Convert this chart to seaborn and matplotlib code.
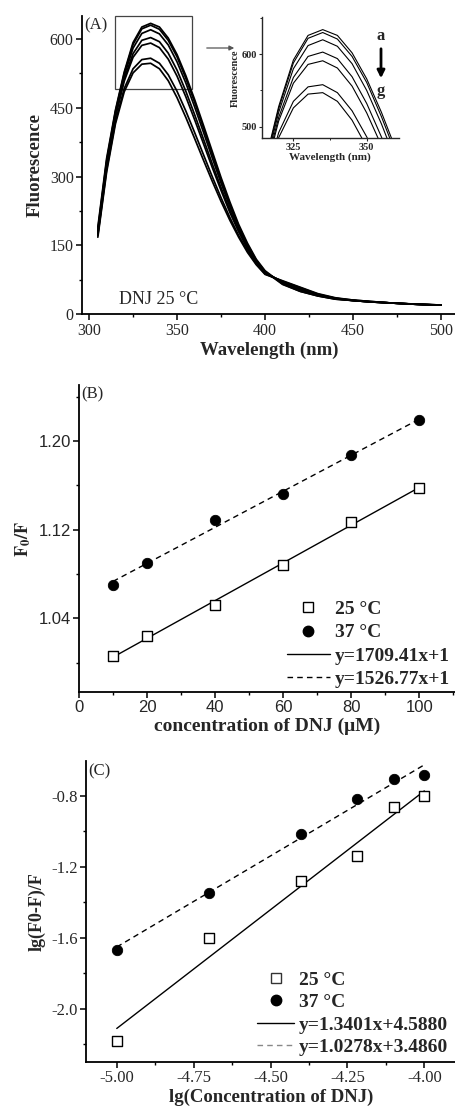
import numpy as np
import pandas as pd
import matplotlib
matplotlib.use('Agg')
import matplotlib.pyplot as plt
import seaborn as sns
from matplotlib.patches import Rectangle, FancyArrowPatch
from matplotlib.lines import Line2D
from matplotlib.ticker import MultipleLocator

sns.set_style('ticks')
plt.rcParams['font.family'] = ['Liberation Serif', 'DejaVu Serif']
plt.rcParams['mathtext.fontset'] = 'stix'

# (A) emission spectra, curves a -> g
wavelength = [305, 310, 315, 320, 325, 330, 335, 340, 345, 350, 355, 360, 365, 370, 375,
              380, 385, 390, 395, 400, 410, 420, 430, 440, 450, 460, 470, 480, 490, 500]
spec_a = [190, 340, 445, 528, 592, 626, 634, 626, 602, 566, 520, 468, 412, 355, 298,
          245, 196, 155, 120, 95, 66, 50, 40, 33, 30, 27, 25, 23, 22, 20]
spec_b = [185, 335, 442, 525, 588, 622, 630, 621, 597, 561, 514, 462, 406, 349, 293,
          240, 192, 152, 118, 93, 65, 50, 40, 33, 30, 27, 25, 23, 22, 20]
spec_c = [180, 330, 438, 520, 580, 612, 620, 611, 587, 550, 504, 452, 397, 341, 286,
          234, 188, 149, 116, 92, 68, 53, 41, 34, 30, 27, 25, 23, 21, 20]
spec_d = [178, 326, 434, 513, 568, 597, 603, 594, 569, 532, 486, 435, 382, 328, 276,
          227, 183, 145, 114, 91, 70, 55, 42, 34, 30, 27, 25, 23, 21, 20]
spec_e = [175, 322, 430, 508, 560, 586, 591, 581, 556, 519, 474, 424, 372, 320, 270,
          222, 180, 143, 113, 90, 71, 57, 43, 35, 30, 27, 25, 23, 21, 20]
spec_f = [172, 315, 420, 492, 535, 555, 558, 547, 522, 486, 443, 396, 348, 300, 254,
          211, 172, 138, 110, 88, 72, 58, 44, 35, 31, 28, 25, 23, 21, 20]
spec_g = [168, 310, 415, 485, 526, 545, 547, 535, 509, 472, 429, 383, 336, 290, 246,
          205, 168, 135, 108, 87, 73, 59, 45, 36, 31, 28, 25, 23, 21, 20]
curve_names = ['a', 'b', 'c', 'd', 'e', 'f', 'g']

# (B) Stern-Volmer
conc_um = [10, 20, 40, 60, 80, 100]
f0f_25 = [1.006, 1.024, 1.052, 1.088, 1.127, 1.158]
f0f_37 = [1.070, 1.0895, 1.129, 1.152, 1.187, 1.219]
b_xticks = [0, 20, 40, 60, 80, 100]
b_yticks = [1.04, 1.12, 1.20]
b_eqs = ['y=1709.41x+1', 'y=1526.77x+1']

# (C) double log
lg_conc = [-5.00, -4.70, -4.40, -4.22, -4.10, -4.00]
lg_25 = [-2.185, -1.605, -1.280, -1.137, -0.866, -0.802]
lg_37 = [-1.669, -1.348, -1.017, -0.820, -0.705, -0.683]
c_slopes = [1.3401, 1.0278]
c_icpts = [4.5880, 3.4860]
c_eqs = ['y=1.3401x+4.5880', 'y=1.0278x+3.4860']
c_xticks = [-5.00, -4.75, -4.50, -4.25, -4.00]
c_yticks = [-2.0, -1.6, -1.2, -0.8]

temps = ['25 °C', '37 °C']

spectra = pd.DataFrame({
    'wl': wavelength * 7,
    'F': spec_a + spec_b + spec_c + spec_d + spec_e + spec_f + spec_g,
    'curve': np.repeat(curve_names, len(wavelength)),
})

fig = plt.figure(figsize=(4.56, 11.10), dpi=100)
W, H = 456, 1110


def px_axes(l, t, r, b):
    return fig.add_axes([l / W, 1 - b / H, (r - l) / W, (b - t) / H])


def style(ax, size=11.5):
    sns.despine(ax=ax)
    for s in ['left', 'bottom']:
        ax.spines[s].set_linewidth(1.3)
        ax.spines[s].set_color('black')
    ax.tick_params(which='major', direction='out', length=4, width=1.1,
                   labelsize=size, color='black', pad=2)
    ax.tick_params(which='minor', direction='out', length=2.5, width=1.0, color='black')


leg_font = {'weight': 'bold', 'size': 14, 'family': 'Liberation Serif'}

# ---------------- (A)
axA = px_axes(82, 16, 456, 314.3)
sns.lineplot(data=spectra, x='wl', y='F', units='curve', estimator=None,
             color='black', lw=1.25, ax=axA, legend=False)
axA.set_xlim(296, 508.5)
axA.set_ylim(0, 650)
axA.xaxis.set_major_locator(MultipleLocator(50))
axA.xaxis.set_minor_locator(MultipleLocator(25))
axA.yaxis.set_major_locator(MultipleLocator(150))
axA.yaxis.set_minor_locator(MultipleLocator(75))
style(axA)
axA.set_xlabel('Wavelength (nm)', fontsize=13.5, fontweight='bold', labelpad=2)
axA.set_ylabel('Fluorescence', fontsize=13.5, fontweight='bold', labelpad=4)
axA.text(0.005, 0.995, '(A)', transform=axA.transAxes, fontsize=12, va='top')
axA.text(317, 22, 'DNJ 25 °C', fontsize=13, va='baseline')
axA.add_patch(Rectangle((314.8, 490), 43.7, 161, fill=False, ec='#444444', lw=0.9,
                        clip_on=False))

# inset
axI = px_axes(261.7, 17.3, 399, 138.3)
sns.lineplot(data=spectra, x='wl', y='F', units='curve', estimator=None,
             color='black', lw=0.8, ax=axI, legend=False)
axI.set_xlim(314.2, 361)
axI.set_ylim(484, 651)
axI.set_xticks([325, 350])
axI.set_yticks([500, 600])
axI.xaxis.set_minor_locator(MultipleLocator(12.5))
axI.yaxis.set_minor_locator(MultipleLocator(50))
sns.despine(ax=axI)
axI.patch.set_alpha(0)
for s in ['left', 'bottom']:
    axI.spines[s].set_linewidth(1.0)
axI.tick_params(which='major', direction='out', length=2.5, width=0.8, labelsize=7.5, pad=1)
axI.tick_params(which='minor', direction='out', length=1.5, width=0.7)
for lbl in axI.get_xticklabels() + axI.get_yticklabels():
    lbl.set_fontweight('bold')
axI.set_xlabel('Wavelength (nm)', fontsize=8, fontweight='bold', labelpad=0)
axI.set_ylabel('Fluorescence', fontsize=7.5, fontweight='bold', labelpad=1)

fig.patches.append(FancyArrowPatch(
    (204 / W, 1 - 48 / H), (237 / W, 1 - 48 / H), transform=fig.transFigure,
    arrowstyle='-|>', mutation_scale=7, color='#555555', lw=0.9))
fig.patches.append(FancyArrowPatch(
    (381 / W, 1 - 46 / H), (381 / W, 1 - 81 / H), transform=fig.transFigure,
    arrowstyle='-|>', mutation_scale=11, color='black', lw=2.0))
fig.text(381 / W, 1 - 40 / H, 'a', fontsize=12, fontweight='bold', ha='center', va='baseline')
fig.text(381 / W, 1 - 95 / H, 'g', fontsize=12, fontweight='bold', ha='center', va='baseline')

# ---------------- (B)
axB = px_axes(79, 385, 455, 692)
bx = np.linspace(conc_um[0], conc_um[-1], 2)
k25 = np.polyfit(conc_um, f0f_25, 1)
k37 = np.polyfit(conc_um, f0f_37, 1)
sns.lineplot(x=bx, y=np.polyval(k25, bx), color='black', lw=1.0, ax=axB)
sns.lineplot(x=bx, y=np.polyval(k37, bx), color='black', lw=1.0, ax=axB, linestyle=(0, (4, 3)))
sns.scatterplot(x=conc_um, y=f0f_25, marker='s', s=46, facecolor='white',
                edgecolor='black', linewidth=1.0, ax=axB, zorder=3)
sns.scatterplot(x=conc_um, y=f0f_37, marker='o', s=56, color='black',
                edgecolor='black', ax=axB, zorder=3)
axB.set_xlim(0, 110.5)
axB.set_ylim(0.9735, 1.2505)
axB.set_xticks(b_xticks)
axB.set_xticklabels([str(v) for v in b_xticks], fontfamily='Liberation Sans')
axB.set_yticks(b_yticks)
axB.set_yticklabels(['%.2f' % v for v in b_yticks], fontfamily='Liberation Sans')
axB.xaxis.set_minor_locator(MultipleLocator(10))
axB.yaxis.set_minor_locator(MultipleLocator(0.04))
style(axB, size=12)
axB.set_xlabel('concentration of DNJ (μM)', fontsize=14, fontweight='bold', labelpad=2)
axB.set_ylabel(r'$\mathbf{F_0/F}$', fontsize=13, labelpad=4)
axB.text(0.005, 0.997, '(B)', transform=axB.transAxes, fontsize=12, va='top')
hB = [Line2D([], [], marker='s', ls='none', mfc='white', mec='black', ms=7),
      Line2D([], [], marker='o', ls='none', mfc='black', mec='black', ms=7.5),
      Line2D([], [], color='black', lw=1.0),
      Line2D([], [], color='black', lw=1.0, ls=(0, (4, 3)))]
axB.legend(hB, temps + b_eqs, loc='lower right', bbox_to_anchor=(1.007, -0.012),
           borderaxespad=0, frameon=False, handlelength=2.2, handletextpad=0.26,
           labelspacing=0.29, prop=leg_font)

# ---------------- (C)
axC = px_axes(86, 760.7, 456, 1061.7)
cx = np.array([lg_conc[0], lg_conc[-1]])
sns.lineplot(x=cx, y=c_slopes[0] * cx + c_icpts[0], color='black', lw=1.0, ax=axC)
sns.lineplot(x=cx, y=c_slopes[1] * cx + c_icpts[1], color='black', lw=1.0, ax=axC,
             linestyle=(0, (4, 3)))
sns.scatterplot(x=lg_conc, y=lg_25, marker='s', s=44, facecolor='white',
                edgecolor='black', linewidth=1.0, ax=axC, zorder=3)
sns.scatterplot(x=lg_conc, y=lg_37, marker='o', s=56, color='black',
                edgecolor='black', ax=axC, zorder=3)
axC.set_xlim(-5.10, -3.897)
axC.set_ylim(-2.30, -0.602)
axC.set_xticks(c_xticks)
axC.set_xticklabels(['%.2f' % v for v in c_xticks])
axC.set_yticks(c_yticks)
axC.set_yticklabels(['%.1f' % v for v in c_yticks])
axC.xaxis.set_minor_locator(MultipleLocator(0.125))
axC.yaxis.set_minor_locator(MultipleLocator(0.2))
style(axC, size=12)
axC.set_xlabel('lg(Concentration of DNJ)', fontsize=13.5, fontweight='bold', labelpad=2)
axC.set_ylabel('lg(F0-F)/F', fontsize=13, fontweight='bold', labelpad=4)
axC.text(0.006, 0.99, '(C)', transform=axC.transAxes, fontsize=12, va='top')
hC = [Line2D([], [], marker='s', ls='none', mfc='white', mec='#333333', ms=6.5),
      Line2D([], [], marker='o', ls='none', mfc='black', mec='black', ms=7.5),
      Line2D([], [], color='black', lw=1.0),
      Line2D([], [], color='#888888', lw=1.0, ls=(0, (4, 3)))]
axC.legend(hC, temps + c_eqs, loc='lower right', bbox_to_anchor=(1.0, -0.007),
           borderaxespad=0, frameon=False, handlelength=1.9, handletextpad=0.25,
           labelspacing=0.25, prop=leg_font)

fig.savefig('out.png', dpi=100)
